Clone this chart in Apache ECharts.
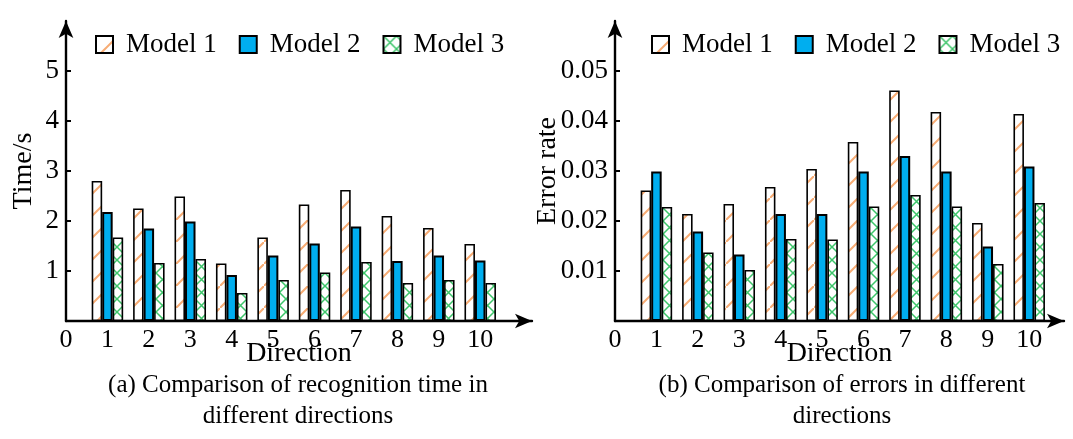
<!DOCTYPE html>
<html>
<head>
<meta charset="utf-8">
<script src="https://cdn.jsdelivr.net/npm/echarts@6/dist/echarts.min.js"></script>
<style>
  html, body { margin: 0; padding: 0; background: #fff; }
  #main { width: 1073px; height: 439px; }
</style>
</head>
<body>
<div id="main"></div>
<script>
// categories (directions) and values
const directions = [1, 2, 3, 4, 5, 6, 7, 8, 9, 10];
const xTicks = [0, 1, 2, 3, 4, 5, 6, 7, 8, 9, 10];
const seriesNames = ["Model 1", "Model 2", "Model 3"];

// (a) recognition time, seconds
const time1 = [2.80, 2.25, 2.49, 1.15, 1.67, 2.33, 2.62, 2.10, 1.86, 1.54];
const time2 = [2.18, 1.85, 1.99, 0.92, 1.31, 1.55, 1.89, 1.20, 1.31, 1.21];
const time3 = [1.67, 1.16, 1.24, 0.56, 0.82, 0.97, 1.18, 0.76, 0.82, 0.76];
const timeTicks = [1, 2, 3, 4, 5];

// (b) error rate
const err1 = [0.0261, 0.0214, 0.0234, 0.0268, 0.0304, 0.0358, 0.0461, 0.0418, 0.0196, 0.0414];
const err2 = [0.0299, 0.0179, 0.0133, 0.0214, 0.0214, 0.0299, 0.0330, 0.0299, 0.0149, 0.0309];
const err3 = [0.0228, 0.0137, 0.0102, 0.0164, 0.0163, 0.0229, 0.0252, 0.0229, 0.0114, 0.0236];
const errTicks = [0.01, 0.02, 0.03, 0.04, 0.05];

const FONT = '"Liberation Serif", "Times New Roman", serif';
const BLUE = "#00AEEF";

// hatch fills
function makeHatch() {
  const c = document.createElement("canvas");
  c.width = 22; c.height = 22;
  const ctx = c.getContext("2d");
  ctx.fillStyle = "#fff";
  ctx.fillRect(0, 0, 22, 22);
  ctx.strokeStyle = "#F7AC74";
  ctx.lineWidth = 2;
  ctx.beginPath();
  ctx.moveTo(-1, 23); ctx.lineTo(23, -1);
  ctx.stroke();
  return c;
}
function makeCross() {
  const c = document.createElement("canvas");
  c.width = 13; c.height = 13;
  const ctx = c.getContext("2d");
  ctx.fillStyle = "#fff";
  ctx.fillRect(0, 0, 13, 13);
  ctx.strokeStyle = "#3DC56A";
  ctx.lineWidth = 1.5;
  ctx.beginPath();
  ctx.moveTo(-1, 14); ctx.lineTo(14, -1);
  ctx.moveTo(-1, -1); ctx.lineTo(14, 14);
  ctx.stroke();
  return c;
}
const hatchFill = { image: makeHatch(), repeat: "repeat" };
const crossFill = { image: makeCross(), repeat: "repeat" };
const fills = [hatchFill, BLUE, crossFill];

const pairs = (vals) => vals.map((v, i) => [directions[i], v]);

function xAxisFor(gridIndex, max) {
  return {
    gridIndex: gridIndex,
    type: "value",
    min: 0,
    max: max,
    interval: 1,
    name: "Direction",
    nameLocation: "middle",
    nameGap: 19,
    nameMoveOverlap: false,
    nameTextStyle: { fontFamily: FONT, fontSize: 28, color: "#000" },
    axisLine: {
      show: true,
      symbol: ["none", "arrow"],
      symbolSize: [11, 17],
      lineStyle: { color: "#000", width: 2.4 }
    },
    axisTick: { show: false },
    axisLabel: {
      customValues: xTicks,
      fontFamily: FONT,
      fontSize: 26,
      color: "#000",
      margin: 6
    },
    splitLine: { show: false }
  };
}

function yAxisFor(gridIndex, max, interval, ticks, name, nameGap, fmt) {
  return {
    gridIndex: gridIndex,
    type: "value",
    min: 0,
    max: max,
    interval: interval,
    name: name,
    nameLocation: "middle",
    nameGap: nameGap,
    nameMoveOverlap: false,
    nameTextStyle: { fontFamily: FONT, fontSize: 28, color: "#000" },
    axisLine: {
      show: true,
      symbol: ["none", "arrow"],
      symbolSize: [11, 17],
      lineStyle: { color: "#000", width: 2.4 }
    },
    axisTick: {
      show: true,
      inside: true,
      length: 5,
      customValues: ticks,
      lineStyle: { color: "#000", width: 2 }
    },
    axisLabel: {
      customValues: ticks,
      fontFamily: FONT,
      fontSize: 27,
      color: "#000",
      margin: 7,
      formatter: fmt
    },
    splitLine: { show: false }
  };
}

function barSeries(name, idx, axisIndex, vals) {
  return {
    type: "bar",
    name: name,
    xAxisIndex: axisIndex,
    yAxisIndex: axisIndex,
    data: pairs(vals),
    barWidth: 10.5,
    barGap: "0%",
    itemStyle: {
      color: fills[idx],
      borderColor: "#000",
      borderWidth: idx === 1 ? 2 : 1.6
    },
    animation: false
  };
}

function legendAt(left) {
  return {
    left: left,
    top: 31,
    padding: 0,
    itemWidth: 17,
    itemHeight: 17,
    itemGap: 22,
    icon: "rect",
    data: seriesNames,
    textStyle: {
      fontFamily: FONT,
      fontSize: 27,
      color: "#000",
      padding: [0, 0, 0, 8]
    }
  };
}

const chart = echarts.init(document.getElementById("main"), null, { renderer: "canvas" });

const option = {
  backgroundColor: "#fff",
  animation: false,
  legend: [legendAt(95), legendAt(651)],
  grid: [
    { left: 66, top: 21, width: 466, height: 300 },
    { left: 615, top: 21, width: 449, height: 300 }
  ],
  xAxis: [xAxisFor(0, 11.25), xAxisFor(1, 10.84)],
  yAxis: [
    yAxisFor(0, 6, 1, timeTicks, "Time/s", 28, (v) => String(v)),
    yAxisFor(1, 0.06, 0.01, errTicks, "Error rate", 53, (v) => v.toFixed(2))
  ],
  series: [
    barSeries(seriesNames[0], 0, 0, time1),
    barSeries(seriesNames[1], 1, 0, time2),
    barSeries(seriesNames[2], 2, 0, time3),
    barSeries(seriesNames[0], 0, 1, err1),
    barSeries(seriesNames[1], 1, 1, err2),
    barSeries(seriesNames[2], 2, 1, err3)
  ],
  graphic: [
    {
      type: "text",
      x: 298,
      y: 370,
      style: {
        text: "(a) Comparison of recognition time in\ndifferent directions",
        font: "25px " + FONT,
        fill: "#000",
        align: "center",
        verticalAlign: "top",
        lineHeight: 31
      }
    },
    {
      type: "text",
      x: 842,
      y: 370,
      style: {
        text: "(b) Comparison of errors in different\ndirections",
        font: "25px " + FONT,
        fill: "#000",
        align: "center",
        verticalAlign: "top",
        lineHeight: 31
      }
    }
  ]
};

chart.setOption(option);
</script>
</body>
</html>
